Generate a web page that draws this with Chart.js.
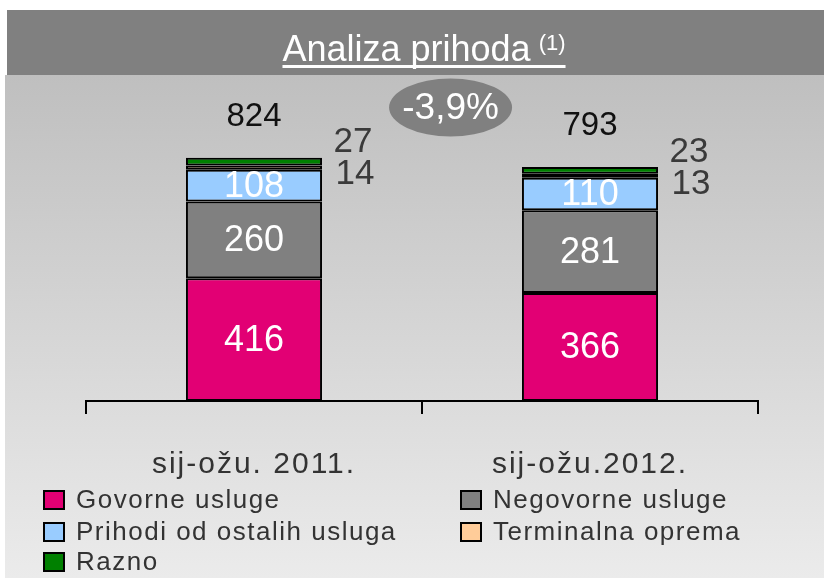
<!DOCTYPE html>
<html>
<head>
<meta charset="utf-8">
<script src="https://cdn.jsdelivr.net/npm/chart.js@4.4.1/dist/chart.umd.min.js"></script>
<style>
  html, body { margin: 0; padding: 0; background: #fff; }
  canvas { display: block; }
</style>
</head>
<body>
<canvas id="c" width="824" height="578"></canvas>
<script>
// ---- data ----
const categories = ['sij-ožu. 2011.', 'sij-ožu.2012.'];
const seriesNames = ['Govorne usluge', 'Negovorne usluge', 'Prihodi od ostalih usluga', 'Terminalna oprema', 'Razno'];
const govorne = [416, 366];
const negovorne = [260, 281];
const prihodiOstalo = [108, 110];
const terminalna = [14, 13];
const razno = [27, 23];
const totals = [824, 793];
const changeLabel = '-3,9%';
const titleText = 'Analiza prihoda';
const titleNote = '(1)';

const colors = ['#E20074', '#808080', '#99CCFF', '#FFCC99', '#008000'];
const FONT = "'Liberation Sans', Arial, sans-serif";
const NARROW = "'Liberation Sans Narrow', 'Arial Narrow'";

const seriesValues = [govorne, negovorne, prihodiOstalo, terminalna, razno];

// detect narrow font availability
function hasNarrow() {
  const c = document.createElement('canvas').getContext('2d');
  c.font = '40px monospace';
  const a = c.measureText('Analiza prihoda').width;
  c.font = '40px ' + NARROW + ', monospace';
  const b = c.measureText('Analiza prihoda').width;
  return Math.abs(a - b) > 1;
}
const narrowOK = hasNarrow();

const decor = {
  id: 'decor',
  beforeDraw(chart) {
    const ctx = chart.ctx;
    ctx.save();
    ctx.fillStyle = '#ffffff';
    ctx.fillRect(0, 0, chart.width, chart.height);
    const g = ctx.createLinearGradient(0, 75, 0, chart.height);
    g.addColorStop(0, '#bfbfbf');
    g.addColorStop(1, '#ebebeb');
    ctx.fillStyle = g;
    ctx.fillRect(5, 75, chart.width - 5, chart.height - 75);
    ctx.fillStyle = '#808080';
    ctx.fillRect(7, 10, chart.width - 7, 65);
    // title
    ctx.fillStyle = '#ffffff';
    ctx.textBaseline = 'alphabetic';
    ctx.textAlign = 'left';
    const tFont = narrowOK ? ('40px ' + NARROW) : ('36px ' + FONT);
    const nFont = narrowOK ? ('24px ' + NARROW) : ('22px ' + FONT);
    ctx.letterSpacing = narrowOK ? '1.2px' : '0px';
    ctx.font = tFont;
    const w1 = ctx.measureText(titleText).width;
    ctx.font = nFont;
    const w2 = ctx.measureText(titleNote).width;
    const gap = 8;
    const total = w1 + gap + w2;
    const x0 = 424 - total / 2;
    ctx.font = tFont;
    ctx.fillText(titleText, x0, 61);
    ctx.font = nFont;
    ctx.fillText(titleNote, x0 + w1 + gap, 50);
    ctx.fillRect(x0, 65, total, 3);
    ctx.restore();
    ctx.letterSpacing = '2px';
  },
  beforeDatasetsDraw(chart) {
    chart.ctx.letterSpacing = '0px';
  },
  afterDraw(chart) {
    const ctx = chart.ctx;
    const xs = chart.scales.x, ys = chart.scales.y;
    ctx.save();
    ctx.letterSpacing = '0px';
    ctx.textAlign = 'center';
    ctx.textBaseline = 'middle';
    const metas = chart.data.datasets.map((d, i) => chart.getDatasetMeta(i));
    categories.forEach((c, j) => {
      // inside labels
      for (let i = 0; i < 3; i++) {
        const el = metas[i].data[j];
        const p = el.getProps(['x', 'y', 'base'], true);
        ctx.fillStyle = '#ffffff';
        ctx.font = '36px ' + FONT;
        ctx.fillText(String(seriesValues[i][j]), p.x, (p.y + p.base) / 2 + 1);
      }
      const top = metas[4].data[j].getProps(['x', 'y', 'width'], true);
      const right = top.x + top.width / 2;
      ctx.fillStyle = '#3a3a3a';
      ctx.font = '35px ' + FONT;
      ctx.fillText(String(razno[j]), right + 31, top.y - 15);
      ctx.fillText(String(terminalna[j]), right + 33, top.y + 17);
      ctx.fillStyle = '#111111';
      ctx.font = '33px ' + FONT;
      ctx.fillText(String(totals[j]), top.x, top.y - 41);
    });
    // change ellipse
    const ex = xs.getPixelForValue(0.585), ey = ys.getPixelForValue(995);
    ctx.fillStyle = '#808080';
    ctx.beginPath();
    ctx.ellipse(ex, ey, 61.5, 29, 0, 0, Math.PI * 2);
    ctx.fill();
    ctx.fillStyle = '#ffffff';
    ctx.font = '37px ' + FONT;
    ctx.fillText(changeLabel, ex, ey + 1);
    // legend
    const slots = [[44, 500], [461, 500], [44, 532], [461, 532], [44, 562]];
    ctx.textAlign = 'left';
    ctx.font = '26px ' + FONT;
    ctx.letterSpacing = '1.5px';
    chart.data.datasets.forEach((d, i) => {
      const [lx, ly] = slots[i];
      ctx.fillStyle = d.backgroundColor;
      ctx.fillRect(lx, ly - 9, 20, 18);
      ctx.strokeStyle = '#000';
      ctx.lineWidth = 2;
      ctx.strokeRect(lx, ly - 9, 20, 18);
      ctx.fillStyle = '#333333';
      ctx.fillText(d.label, lx + 32, ly + 1);
    });
    ctx.restore();
  }
};

new Chart(document.getElementById('c'), {
  type: 'bar',
  data: {
    labels: categories,
    datasets: seriesNames.map((n, i) => ({
      label: n,
      data: seriesValues[i],
      backgroundColor: colors[i],
      borderColor: '#000000',
      borderWidth: 2,
      borderSkipped: false,
      categoryPercentage: 1,
      barPercentage: 0.405
    }))
  },
  options: {
    responsive: false,
    animation: false,
    devicePixelRatio: 1,
    layout: { padding: { top: 106, left: 86, right: 66, bottom: 0 } },
    plugins: { legend: { display: false }, tooltip: { enabled: false }, title: { display: false } },
    scales: {
      x: {
        stacked: true,
        afterFit: (s) => { s.height = 177; },
        grid: { display: true, drawOnChartArea: false, drawTicks: true, tickLength: 13, color: '#000', lineWidth: 2, offset: true },
        border: { display: true, color: '#000', width: 2 },
        ticks: { color: '#333333', font: { family: FONT, size: 30 }, padding: 33, maxRotation: 0, autoSkip: false }
      },
      y: { stacked: true, display: false, min: 0, max: 1000 }
    }
  },
  plugins: [decor]
});
</script>
</body>
</html>
